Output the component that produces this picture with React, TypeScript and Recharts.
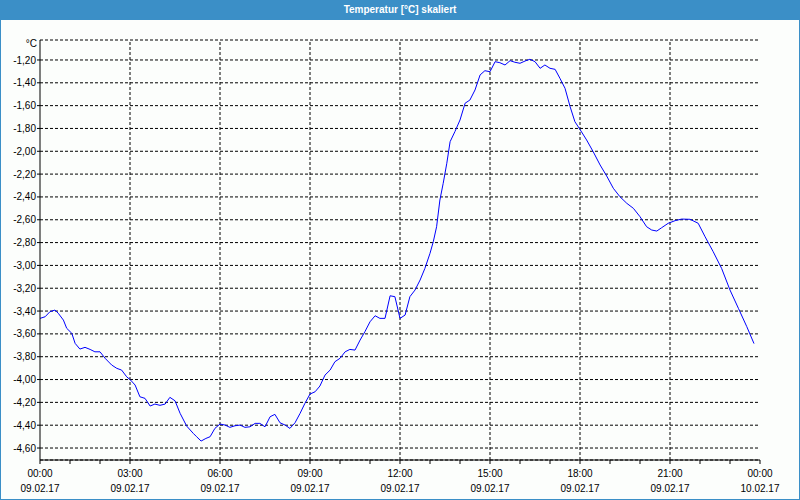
import React from "react";
import { LineChart, Line, XAxis, YAxis, CartesianGrid, ReferenceLine } from "recharts";

const hours = [
  0, 0.17, 0.33, 0.5, 0.61, 0.78, 0.89, 1.06, 1.17, 1.33, 1.5, 1.67, 1.83, 2.0, 2.17, 2.39, 2.56, 2.72, 2.89, 3.02,
  3.17, 3.33, 3.5, 3.67, 3.83, 4.0, 4.17, 4.33, 4.5, 4.67, 4.89, 5.11, 5.22, 5.37, 5.53, 5.67, 5.83, 6.0,
  6.17, 6.33, 6.5, 6.67, 6.83, 7.0, 7.17, 7.33, 7.5, 7.67, 7.83, 8.0, 8.17, 8.33, 8.5, 8.67, 8.83, 9.0,
  9.17, 9.33, 9.5, 9.67, 9.83, 10.0, 10.17, 10.33, 10.5, 10.67, 10.83, 11.0, 11.17, 11.33, 11.5, 11.67, 11.83, 12.0,
  12.17, 12.33, 12.5, 12.67, 12.83, 13.0, 13.11, 13.22, 13.33, 13.44, 13.56, 13.67, 13.83, 14.0, 14.17, 14.33,
  14.5, 14.67, 14.83, 15.0, 15.17, 15.33, 15.5, 15.67, 15.83, 16.0, 16.17, 16.33, 16.5, 16.67, 16.83, 17.0,
  17.17, 17.33, 17.5, 17.67, 17.83, 18.0, 18.22, 18.44, 18.67, 18.89, 19.11, 19.33, 19.56, 19.78, 20.0, 20.22,
  20.39, 20.56, 20.72, 20.94, 21.17, 21.39, 21.67, 21.94, 22.17, 22.44, 22.72, 23.0, 23.28, 23.56, 23.8,
];

const temps = [
  -3.464, -3.45, -3.406, -3.391, -3.42, -3.479, -3.551, -3.595, -3.683, -3.733, -3.718, -3.736, -3.757, -3.757,
  -3.814, -3.873, -3.902, -3.917, -3.976, -4.005, -4.048, -4.151, -4.165, -4.232, -4.215, -4.226, -4.215, -4.156,
  -4.186, -4.296, -4.408, -4.472, -4.501, -4.539, -4.516, -4.501, -4.428, -4.39,
  -4.399, -4.419, -4.405, -4.399, -4.419, -4.414, -4.384, -4.384, -4.414, -4.326, -4.305, -4.379, -4.399, -4.428,
  -4.379, -4.296, -4.209, -4.127, -4.107, -4.057, -3.961, -3.917, -3.844, -3.814, -3.757, -3.736, -3.742, -3.654,
  -3.581, -3.494, -3.441, -3.464, -3.464, -3.266, -3.274, -3.464,
  -3.435, -3.274, -3.216, -3.128, -3.026, -2.894, -2.792, -2.661, -2.427, -2.281, -2.105, -1.916, -1.828, -1.726,
  -1.579, -1.551, -1.463, -1.331, -1.294, -1.303, -1.215, -1.224, -1.244, -1.206, -1.22, -1.229, -1.209, -1.194,
  -1.215, -1.273, -1.244, -1.273, -1.282, -1.36, -1.448, -1.609, -1.741, -1.809,
  -1.901, -2.004, -2.12, -2.217, -2.324, -2.398, -2.456, -2.5, -2.573, -2.661, -2.69, -2.699, -2.67, -2.631,
  -2.608, -2.594, -2.596, -2.631, -2.749, -2.88, -3.026, -3.216, -3.376, -3.537, -3.685,
];

const yTicks = [-1.2, -1.4, -1.6, -1.8, -2.0, -2.2, -2.4, -2.6, -2.8, -3.0, -3.2, -3.4, -3.6, -3.8, -4.0, -4.2, -4.4, -4.6];
const xTicks = [0, 1, 2, 3, 4, 5, 6, 7, 8, 9, 10, 11, 12, 13, 14, 15, 16, 17, 18, 19, 20, 21, 22, 23, 24];
const gridHours = [3, 6, 9, 12, 15, 18, 21];
const timeLabels = ["00:00", "03:00", "06:00", "09:00", "12:00", "15:00", "18:00", "21:00", "00:00"];
const dateLabels = ["09.02.17", "09.02.17", "09.02.17", "09.02.17", "09.02.17", "09.02.17", "09.02.17", "09.02.17", "10.02.17"];

const data = hours.map((h, i) => ({ h, t: temps[i] }));

const FONT = "'Liberation Sans', Arial, sans-serif";

const XTick = (props: any) => {
  const { x, y, payload } = props;
  const v = payload.value;
  if (v % 3 !== 0) return <g />;
  const i = v / 3;
  return (
    <g>
      <text x={x} y={y + 11} textAnchor="middle" fontSize={10} fontFamily={FONT} fill="#000">
        {timeLabels[i]}
      </text>
      <text x={x} y={y + 26} textAnchor="middle" fontSize={10} fontFamily={FONT} fill="#000">
        {dateLabels[i]}
      </text>
    </g>
  );
};

export default function App() {
  return (
    <div style={{ position: "fixed", left: 0, top: 0, width: 800, height: 500, background: "#3b8fc7" }}>
      <div
        style={{
          position: "absolute",
          left: 0,
          top: 0,
          width: 800,
          height: 20,
          color: "#fff",
          fontFamily: FONT,
          fontWeight: "bold",
          fontSize: 10,
          lineHeight: "20px",
          textAlign: "center",
        }}
      >
        Temperatur [°C] skaliert
      </div>
      <div style={{ position: "absolute", left: 1, top: 20, width: 798, height: 479, background: "#fcfefc" }} />
      <div style={{ position: "absolute", left: 0, top: 0 }}>
        <LineChart width={800} height={500} data={data} margin={{ top: 40, right: 40, bottom: 0, left: 0 }}>
          <CartesianGrid vertical={false} stroke="#000" strokeDasharray="3 2" />
          {gridHours.map((g) => (
            <ReferenceLine key={g} x={g} stroke="#000" strokeDasharray="3 2" />
          ))}
          <XAxis
            dataKey="h"
            type="number"
            domain={[0, 24]}
            ticks={xTicks}
            interval={0}
            height={40}
            tickSize={4}
            tickMargin={2}
            axisLine={{ stroke: "#000" }}
            tickLine={{ stroke: "#000" }}
            tick={<XTick />}
          />
          <XAxis xAxisId="t" orientation="top" type="number" domain={[0, 24]} height={0} tick={false} tickLine={false} axisLine={{ stroke: "#000" }} />
          <YAxis
            type="number"
            domain={[-4.705, -1.025]}
            ticks={yTicks}
            interval={0}
            width={40}
            tickSize={3}
            tickMargin={1}
            axisLine={{ stroke: "#000" }}
            tickLine={{ stroke: "#000" }}
            tick={{ fill: "#000", fontSize: 10, fontFamily: FONT }}
            tickFormatter={(v: number) => v.toFixed(2).replace(".", ",")}
          />
          <YAxis yAxisId="r" orientation="right" type="number" domain={[0, 1]} width={0} tick={false} tickLine={false} axisLine={{ stroke: "#000" }} />
          <Line type="linear" dataKey="t" stroke="#0000ff" strokeWidth={1} dot={false} isAnimationActive={false} />
        </LineChart>
      </div>
      <div
        style={{
          position: "absolute",
          left: 0,
          top: 38,
          width: 37,
          textAlign: "right",
          fontFamily: FONT,
          fontSize: 10,
          lineHeight: "12px",
          color: "#000",
        }}
      >
        °C
      </div>
    </div>
  );
}
